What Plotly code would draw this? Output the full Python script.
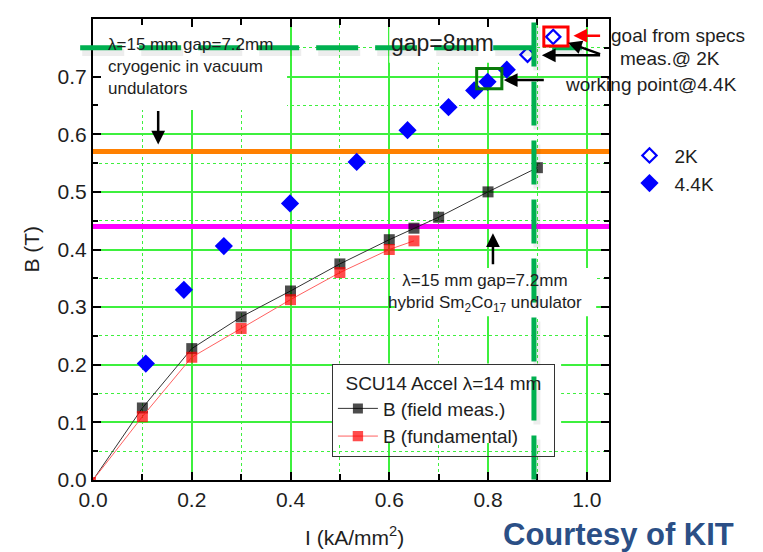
import plotly.graph_objects as go

# ---------------- data ----------------
I_meas = [0.0, 0.1, 0.2, 0.3, 0.4, 0.5, 0.6, 0.65, 0.7, 0.8, 0.9]
B_meas = [0.0, 0.125, 0.228, 0.283, 0.328, 0.375, 0.417, 0.437, 0.456, 0.500, 0.542]
I_fund = [0.0, 0.1, 0.2, 0.3, 0.4, 0.5, 0.6, 0.65]
B_fund = [0.0, 0.110, 0.213, 0.263, 0.313, 0.360, 0.400, 0.415]
I_44K = [0.107, 0.184, 0.265, 0.399, 0.534, 0.637, 0.72, 0.772, 0.799, 0.838]
B_44K = [0.202, 0.330, 0.406, 0.480, 0.552, 0.607, 0.647, 0.676, 0.691, 0.712]
I_2K = [0.880, 0.932]
B_2K = [0.738, 0.769]
B_cryo = 0.57      # cryogenic in-vacuum undulator level
B_hybrid = 0.44    # hybrid Sm2Co17 undulator level
B_gap8 = 0.75      # gap = 8 mm level
I_limit = 0.893    # vertical limit line
X_RANGE = [0, 1.045]
Y_RANGE = [0, 0.8]

FONT = "Arial, Liberation Sans, sans-serif"
GRID = "#3ef03e"
TXT = "#1e1e1e"

fig = go.Figure()

fig.add_trace(go.Scatter(
    x=I_meas, y=B_meas, mode="lines+markers", name="B (field meas.)",
    line=dict(color="#333333", width=1),
    marker=dict(symbol="square", color="black", size=[0] + [11] * (len(I_meas) - 1),
                line=dict(width=0)),
    legend="legend"))
fig.add_trace(go.Scatter(
    x=I_fund, y=B_fund, mode="lines+markers", name="B (fundamental)",
    line=dict(color="#ff6060", width=1),
    marker=dict(symbol="square", color="#ff0000", size=[6] + [11] * (len(I_fund) - 1),
                line=dict(width=0)),
    legend="legend"))
fig.add_trace(go.Scatter(
    x=I_2K, y=B_2K, mode="markers", name="2K",
    marker=dict(symbol="diamond-open", color="#0000ff", size=11, line=dict(width=2.2)),
    legend="legend2"))
fig.add_trace(go.Scatter(
    x=I_44K, y=B_44K, mode="markers", name="4.4K",
    marker=dict(symbol="diamond", color="#0000ff", size=14),
    legend="legend2"))

shapes = []
# white backgrounds behind text blocks (hide grid, drawn under traces)
for (x0, x1, y0, y1) in [(0.004, 0.393, 0.642, 0.797),
                         (0.60, 0.867, 0.724, 0.797),
                         (0.611, 1.019, 0.284, 0.368),
                         (0.484, 0.948, 0.064, 0.202)]:
    shapes.append(dict(type="rect", xref="x", yref="y",
                       x0=x0, x1=x1, y0=y0, y1=y1,
                       fillcolor="white", line=dict(width=0), layer="between"))
# horizontal reference levels
shapes.append(dict(type="line", xref="x", yref="y", x0=X_RANGE[0], x1=X_RANGE[1],
                   y0=B_cryo, y1=B_cryo, line=dict(color="#ff8000", width=5), layer="between"))
shapes.append(dict(type="line", xref="x", yref="y", x0=X_RANGE[0], x1=X_RANGE[1],
                   y0=B_hybrid, y1=B_hybrid, line=dict(color="#ff00ff", width=5), layer="between"))
# green dashed limit lines with soft shadow
xl0 = -0.026 / X_RANGE[1]
xl1 = 0.99 / X_RANGE[1]
shapes.append(dict(type="line", xref="x domain", yref="y", x0=xl0 + 0.004, x1=xl1 + 0.004,
                   y0=B_gap8 - 0.008, y1=B_gap8 - 0.008,
                   line=dict(color="rgba(0,0,0,0.07)", width=7, dash="42px,17px")))
shapes.append(dict(type="line", xref="x domain", yref="y", x0=xl0, x1=xl1,
                   y0=B_gap8, y1=B_gap8,
                   line=dict(color="#00b050", width=5, dash="42px,17px")))
shapes.append(dict(type="line", xref="x", yref="y", x0=I_limit + 0.006, x1=I_limit + 0.006,
                   y0=0.787, y1=0.0,
                   line=dict(color="rgba(0,0,0,0.07)", width=7, dash="44px,15px")))
shapes.append(dict(type="line", xref="x", yref="y", x0=I_limit, x1=I_limit,
                   y0=0.794, y1=0.0,
                   line=dict(color="#00b050", width=5, dash="44px,15px")))
# highlight boxes
shapes.append(dict(type="rect", xref="x", yref="y",
                   x0=I_2K[1] - 0.019, x1=I_2K[1] + 0.030,
                   y0=B_2K[1] - 0.016, y1=B_2K[1] + 0.017,
                   line=dict(color="#ff0000", width=3)))
shapes.append(dict(type="rect", xref="x", yref="y",
                   x0=I_44K[8] - 0.022, x1=I_44K[8] + 0.029,
                   y0=B_44K[8] - 0.012, y1=B_44K[8] + 0.023,
                   line=dict(color="#0a7a0a", width=3)))

ann = []
def txt(x, y, text, size=17, xanchor="left", yanchor="middle", xref="x", yref="y", **kw):
    ann.append(dict(x=x, y=y, xref=xref, yref=yref, text=text, showarrow=False,
                    xanchor=xanchor, yanchor=yanchor,
                    font=dict(family=FONT, size=size, color=TXT), **kw))

def arrow(x, y, ax, ay, color="black", width=2.5):
    ann.append(dict(x=x, y=y, ax=ax, ay=ay, xref="x", yref="y", axref="x", ayref="y",
                    text="", showarrow=True, arrowhead=2, arrowsize=1.1,
                    arrowwidth=width, arrowcolor=color))

txt(0.027, 0.775, "λ=15 mm gap=7.2mm<br>cryogenic in vacuum<br>undulators", yanchor="top",
    align="left")
txt(0.707, 0.758, "gap=8mm", size=23, xanchor="center")
txt(0.793, 0.325, "λ=15 mm gap=7.2mm<br>hybrid Sm<sub>2</sub>Co<sub>17</sub> undulator",
    xanchor="center", align="center")
txt(1.0, 0.965, "goal from specs", size=19, xref="paper", yref="paper")
txt(1.017, 0.915, "meas.@ 2K", size=19, xref="paper", yref="paper")
txt(0.951, 0.687, "working point@4.4K", size=19)

arrow(0.132, 0.582, 0.132, 0.643)
arrow(0.81, 0.428, 0.81, 0.372)
arrow(0.973, 0.771, 1.030, 0.771, color="#ff0000")
arrow(0.962, 0.759, 1.030, 0.738)
arrow(0.909, 0.737, 1.030, 0.737)
arrow(0.832, 0.694, 0.916, 0.694)

# axis titles and credit
txt(0.506, -0.088, "I (kA/mm<sup>2</sup>)", size=21, xanchor="center", yanchor="top",
    xref="paper", yref="paper")
txt(-0.12, 0.5, "B (T)", size=21, xanchor="center", yanchor="middle",
    xref="paper", yref="paper", textangle=-90)
ann.append(dict(x=1.018, y=-0.076, xref="paper", yref="paper", text="<b>Courtesy of KIT</b>",
                showarrow=False, xanchor="center", yanchor="top",
                font=dict(family=FONT, size=31, color="#2b4f86")))

axis_common = dict(showline=True, linecolor="black", linewidth=2, mirror="ticks",
                   ticks="inside", tickcolor="black", tickwidth=1.5,
                   showgrid=True, gridcolor=GRID, gridwidth=1.5, zeroline=False,
                   automargin=False,
                   tickfont=dict(family=FONT, size=21, color=TXT))

# page body has an 8px margin, so the figure is 8px smaller and margins shifted
fig.update_layout(
    width=755, height=544,
    margin=dict(l=85, r=154, t=11, b=72, autoexpand=False),
    paper_bgcolor="white", plot_bgcolor="white",
    showlegend=True,
    shapes=shapes, annotations=ann,
    xaxis=dict(range=X_RANGE, dtick=0.2, tick0=0, tickformat=".1f", ticklen=8,
               minor=dict(dtick=0.1, ticks="inside", ticklen=6, tickcolor="black",
                          showgrid=True, gridcolor=GRID, gridwidth=1.2, griddash="dot"),
               **axis_common),
    yaxis=dict(range=Y_RANGE, dtick=0.1, tick0=0, tickformat=".1f", ticklen=8,
               minor=dict(dtick=0.05, ticks="inside", ticklen=5, tickcolor="black",
                          showgrid=True, gridcolor=GRID, gridwidth=1.2, griddash="dot"),
               **axis_common),
    legend=dict(x=0.463, y=0.252, xanchor="left", yanchor="top",
                bgcolor="rgba(0,0,0,0)", bordercolor="#333333", borderwidth=1,
                font=dict(family=FONT, size=19, color=TXT),
                title=dict(text="\u00a0\u00a0SCU14 Accel λ=14 mm\u00a0\u00a0", side="top",
                           font=dict(family=FONT, size=19, color=TXT)),
                tracegroupgap=0, itemwidth=40),
    legend2=dict(x=1.03, y=0.745, xanchor="left", yanchor="top",
                 bgcolor="rgba(0,0,0,0)", borderwidth=0,
                 font=dict(family=FONT, size=19, color=TXT), itemwidth=40),
)

fig.write_html("out.html")
